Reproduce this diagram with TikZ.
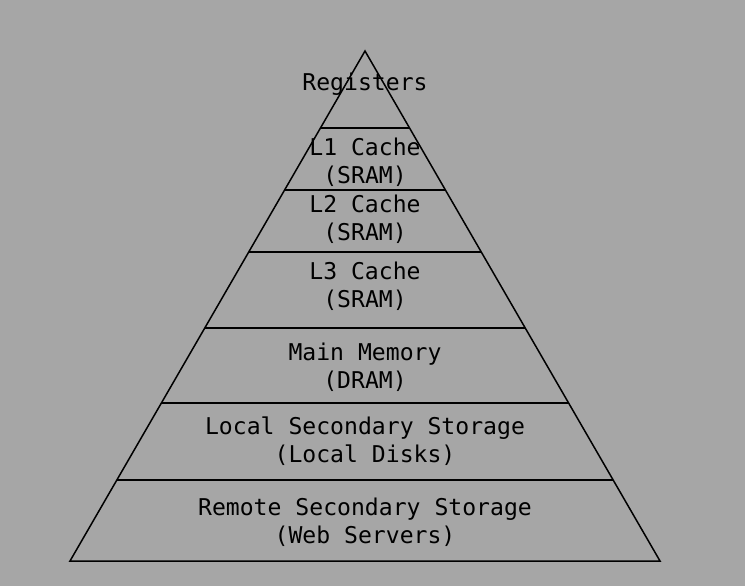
\documentclass[tikz,border=0pt]{standalone}
\usepackage{fontspec}
\setmonofont{DejaVu Sans Mono}
\usetikzlibrary{calc, positioning}
\definecolor{bggray}{RGB}{166,166,166}
\tikzset{
  edge/.style={draw=black, line width=1.5bp},
  layertext/.style={font=\ttfamily\fontsize{23.1bp}{28bp}\selectfont, align=center,
                    text=black, inner sep=0pt},
}

\begin{document}
\begin{tikzpicture}[x=1bp, y=-1bp]
  \fill[bggray] (0,0) rectangle (745,586);
  \useasboundingbox (0,0) rectangle (745,586);

  \coordinate (apex) at (365,51);
  \coordinate (bl) at (70,561);
  \coordinate (br) at (660,561);
  \draw[edge, line join=miter] (apex) -- (bl) -- (br) -- cycle;

  % layer separators
  \foreach \t in {0.151, 0.2725, 0.394, 0.543, 0.690, 0.841} {
    \draw[edge] ($(apex)!\t!(bl)$) -- ($(apex)!\t!(br)$);
  }

  \node[layertext] (reg) at (365,84.5) {Registers};
  \node[layertext] (l1) at (365,162.5) {L1 Cache\\(SRAM)};
  \node[layertext] (l2) at (365,219.5) {L2 Cache\\(SRAM)};
  \node[layertext] (l3) at (365,286.5) {L3 Cache\\(SRAM)};
  \node[layertext] (mem) at (365,367.5) {Main Memory\\(DRAM)};
  \node[layertext] (local) at (365,441.5) {Local Secondary Storage\\(Local Disks)};
  \node[layertext] (remote) at (365,522.5) {Remote Secondary Storage\\(Web Servers)};
\end{tikzpicture}
\end{document}
